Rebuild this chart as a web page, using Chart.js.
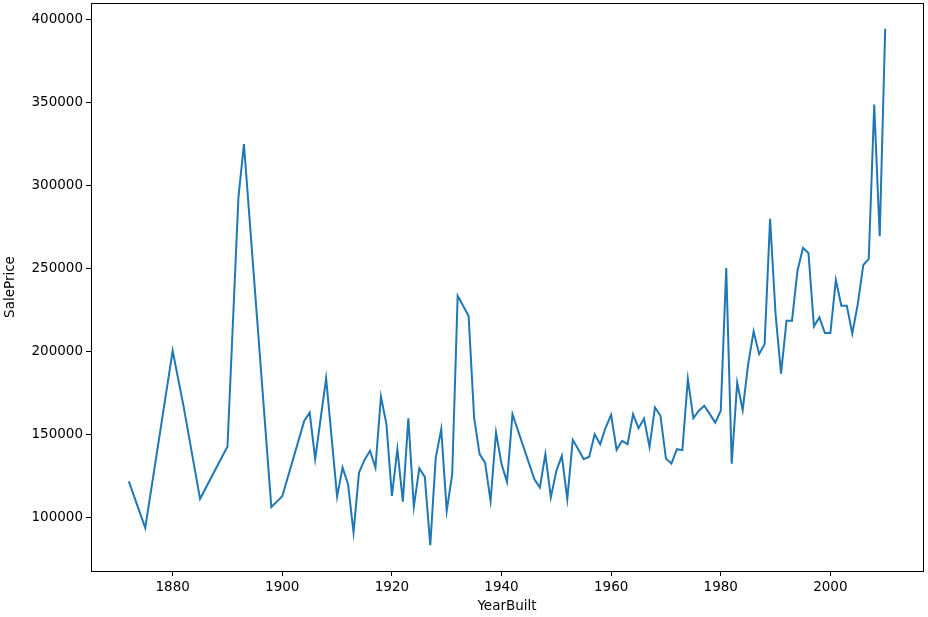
<!DOCTYPE html>
<html>
<head>
<meta charset="utf-8">
<script src="https://cdn.jsdelivr.net/npm/chart.js@4"></script>
<style>
  html, body { margin: 0; padding: 0; background: #fff; }
  #wrap { width: 928px; height: 617px; }
</style>
</head>
<body>
<div id="wrap"><canvas id="chart" width="928" height="617"></canvas></div>
<script>
// mean SalePrice per YearBuilt
var years = [1872,1875,1880,1882,1885,1890,1892,1893,1898,1900,
    1904,1905,1906,1908,1910,1911,1912,1913,1914,1915,1916,1917,1918,1919,
    1920,1921,1922,1923,1924,1925,1926,1927,1928,1929,1930,1931,1932,
    1934,1935,1936,1937,1938,1939,1940,1941,1942,
    1945,1946,1947,1948,1949,1950,1951,1952,1953,1954,1955,1956,1957,1958,1959,
    1960,1961,1962,1963,1964,1965,1966,1967,1968,1969,1970,1971,1972,1973,1974,
    1975,1976,1977,1978,1979,1980,1981,1982,1983,1984,1985,1986,1987,1988,1989,
    1990,1991,1992,1993,1994,1995,1996,1997,1998,1999,2000,2001,2002,2003,2004,
    2005,2006,2007,2008,2009,2010];

var salePrice = [122000,94000,200600,167000,111500,143000,293000,325000,106500,113000,
    158400,163400,135500,184000,112800,130300,120300,91200,127300,134900,140400,130300,173100,156500,
    113300,141400,109800,160000,106800,129900,124700,83600,136300,153400,104200,126300,233700,
    221500,160400,138400,133300,110200,151400,132400,121700,162500,
    133000,123300,118300,138400,112300,128300,137400,111300,147000,141400,135400,136800,150400,144400,154400,
    162000,141000,146400,144400,162500,154000,159800,142800,166500,161500,135700,132700,141400,140800,183600,
    160000,164500,167500,162500,157400,164500,250400,132700,181500,164900,192600,212300,198600,204600,280000,
    222700,186900,218700,218700,248800,262500,259500,215300,220700,211300,211300,243200,227700,227700,211000,
    228700,252200,255900,348800,269500,394400];

var xTicks = [1880, 1900, 1920, 1940, 1960, 1980, 2000];
var yTicks = [100000, 150000, 200000, 250000, 300000, 350000, 400000];

// matplotlib style 5% margins
function padded(arr) {
    var lo = Math.min.apply(null, arr), hi = Math.max.apply(null, arr);
    var m = (hi - lo) * 0.05;
    return [lo - m, hi + m];
}
var xr = padded(years), yr = padded(salePrice);

var points = years.map(function (y, i) { return { x: y, y: salePrice[i] }; });

var font = { family: 'DejaVu Sans', size: 13.5 };

// box around the axes like matplotlib spines
var frame = {
    id: 'frame',
    afterDraw: function (chart) {
        var a = chart.chartArea, ctx = chart.ctx;
        ctx.save();
        ctx.strokeStyle = '#000';
        ctx.lineWidth = 1;
        ctx.strokeRect(Math.round(a.left) + 0.5, Math.round(a.top) + 0.5,
            Math.round(a.right - a.left), Math.round(a.bottom - a.top));
        ctx.restore();
    }
};

var ctx = document.getElementById('chart').getContext('2d');
window.yearChart = new Chart(ctx, {
    type: 'line',
    data: {
        datasets: [{
            label: 'SalePrice',
            data: points,
            borderColor: '#1f77b4',
            borderWidth: 2,
            pointRadius: 0,
            tension: 0,
            fill: false
        }]
    },
    options: {
        responsive: false,
        animation: false,
        layout: { padding: { left: 0, top: 3, right: 5, bottom: 0 } },
        plugins: { legend: { display: false }, tooltip: { enabled: false } },
        scales: {
            x: {
                type: 'linear',
                min: xr[0],
                max: xr[1],
                afterBuildTicks: function (axis) {
                    axis.ticks = xTicks.map(function (v) { return { value: v }; });
                },
                afterFit: function (axis) {
                    axis.height = 46;
                    axis.paddingLeft = 0;
                    axis.paddingRight = 0;
                },
                ticks: {
                    font: font,
                    color: '#000',
                    padding: 3,
                    maxRotation: 0,
                    callback: function (v) { return String(v); }
                },
                grid: {
                    drawOnChartArea: false,
                    drawTicks: true,
                    tickLength: 5,
                    color: '#000'
                },
                border: { color: '#000', width: 1 },
                title: {
                    display: true,
                    text: 'YearBuilt',
                    font: font,
                    color: '#000',
                    padding: { top: 0, bottom: 2 }
                }
            },
            y: {
                type: 'linear',
                min: yr[0],
                max: yr[1],
                afterBuildTicks: function (axis) {
                    axis.ticks = yTicks.map(function (v) { return { value: v }; });
                },
                afterFit: function (axis) {
                    axis.width = 91;
                    axis.paddingTop = 0;
                    axis.paddingBottom = 0;
                },
                ticks: {
                    font: font,
                    color: '#000',
                    padding: 3,
                    callback: function (v) { return String(v); }
                },
                grid: {
                    drawOnChartArea: false,
                    drawTicks: true,
                    tickLength: 5,
                    color: '#000'
                },
                border: { color: '#000', width: 1 },
                title: {
                    display: true,
                    text: 'SalePrice',
                    font: font,
                    color: '#000',
                    padding: { top: 2, bottom: 0 }
                }
            }
        }
    },
    plugins: [frame]
});
</script>
</body>
</html>
